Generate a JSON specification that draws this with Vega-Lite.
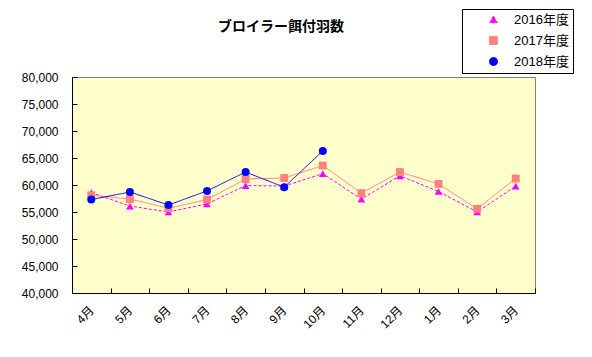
{
  "$schema": "https://vega.github.io/schema/vega-lite/v6.json",
  "autosize": {"type": "none"},
  "width": 463,
  "height": 216,
  "padding": {"left": 72, "top": 77, "right": 57, "bottom": 64},
  "background": "white",
  "title": {
    "text": "ブロイラー餌付羽数",
    "font": "Noto Sans CJK JP",
    "fontSize": 14,
    "fontWeight": "bold",
    "color": "black",
    "anchor": "start",
    "frame": "group",
    "baseline": "bottom",
    "dx": 146,
    "offset": -39
  },
  "config": {
    "view": {"fill": "#FFFFCC", "stroke": "#808080", "strokeWidth": 1},
    "font": "Liberation Sans, Noto Sans CJK JP",
    "legend": {
      "orient": "none",
      "legendX": 390,
      "legendY": -68,
      "direction": "vertical",
      "strokeColor": "black",
      "fillColor": "white",
      "padding": 4,
      "labelFontSize": 13,
      "labelColor": "black",
      "rowPadding": 7,
      "symbolSize": 81,
      "symbolOffset": 21,
      "labelOffset": 14
    }
  },
  "data": {
    "values": [
      {"month": "4月", "year": "2016年度", "value": 58600},
      {"month": "5月", "year": "2016年度", "value": 56100},
      {"month": "6月", "year": "2016年度", "value": 55000},
      {"month": "7月", "year": "2016年度", "value": 56500},
      {"month": "8月", "year": "2016年度", "value": 59900},
      {"month": "9月", "year": "2016年度", "value": 59800},
      {"month": "10月", "year": "2016年度", "value": 62100},
      {"month": "11月", "year": "2016年度", "value": 57400},
      {"month": "12月", "year": "2016年度", "value": 61700},
      {"month": "1月", "year": "2016年度", "value": 58800},
      {"month": "2月", "year": "2016年度", "value": 55000},
      {"month": "3月", "year": "2016年度", "value": 59800},
      {"month": "4月", "year": "2017年度", "value": 58100},
      {"month": "5月", "year": "2017年度", "value": 57400},
      {"month": "6月", "year": "2017年度", "value": 55700},
      {"month": "7月", "year": "2017年度", "value": 57300},
      {"month": "8月", "year": "2017年度", "value": 61100},
      {"month": "9月", "year": "2017年度", "value": 61300},
      {"month": "10月", "year": "2017年度", "value": 63600},
      {"month": "11月", "year": "2017年度", "value": 58500},
      {"month": "12月", "year": "2017年度", "value": 62400},
      {"month": "1月", "year": "2017年度", "value": 60200},
      {"month": "2月", "year": "2017年度", "value": 55600},
      {"month": "3月", "year": "2017年度", "value": 61200},
      {"month": "4月", "year": "2018年度", "value": 57300},
      {"month": "5月", "year": "2018年度", "value": 58700},
      {"month": "6月", "year": "2018年度", "value": 56300},
      {"month": "7月", "year": "2018年度", "value": 58900},
      {"month": "8月", "year": "2018年度", "value": 62400},
      {"month": "9月", "year": "2018年度", "value": 59600},
      {"month": "10月", "year": "2018年度", "value": 66300}
    ]
  },
  "encoding": {
    "x": {
      "field": "month",
      "type": "nominal",
      "sort": ["4月", "5月", "6月", "7月", "8月", "9月", "10月", "11月", "12月", "1月", "2月", "3月"],
      "scale": {"paddingInner": 0, "paddingOuter": 0},
      "axis": {
        "title": null,
        "labelAngle": -45,
        "labelAlign": "right",
        "labelBaseline": "middle",
        "tickBand": "extent",
        "tickSize": -5,
        "tickColor": "black",
        "domainColor": "black",
        "labelColor": "black",
        "labelFontSize": 12,
        "labelPadding": 20,
        "labelDx": -12,
        "grid": false
      }
    },
    "y": {
      "field": "value",
      "type": "quantitative",
      "scale": {"domain": [40000, 80000], "nice": false, "zero": false},
      "axis": {
        "title": null,
        "values": [40000, 45000, 50000, 55000, 60000, 65000, 70000, 75000, 80000],
        "format": ",.0f",
        "tickSize": -5,
        "tickColor": "black",
        "domainColor": "black",
        "labelColor": "black",
        "labelFontSize": 12,
        "labelPadding": 19,
        "grid": false
      }
    },
    "color": {
      "field": "year",
      "type": "nominal",
      "scale": {"domain": ["2016年度", "2017年度", "2018年度"], "range": ["#FF00FF", "#FF8080", "#0000FF"]},
      "legend": {
        "title": null,
        "encode": {
          "symbols": {
            "update": {
              "shape": {"signal": "datum.value === '2016年度' ? 'M-3.7,0H3.7M0,-1.1L1,0.9H-1Z' : datum.value === '2017年度' ? 'M-3.7,0H3.7M-0.9,-0.9H0.9V0.9H-0.9Z' : 'M-3.7,0H3.7M1,0A1,1,0,1,1,-1,0A1,1,0,1,1,1,0Z'"},
              "strokeWidth": {"value": 1},
              "strokeDash": {"signal": "datum.value === '2016年度' ? [3, 2] : [1, 0]"}
            }
          }
        }
      }
    }
  },
  "layer": [
    {
      "mark": {"type": "line", "strokeWidth": 1},
      "encoding": {
        "strokeDash": {
          "field": "year",
          "type": "nominal",
          "scale": {"domain": ["2016年度", "2017年度", "2018年度"], "range": [[3, 2], [1, 0], [1, 0]]},
          "legend": null
        }
      }
    },
    {
      "mark": {"type": "point", "filled": true, "opacity": 1},
      "encoding": {
        "shape": {
          "field": "year",
          "type": "nominal",
          "scale": {"domain": ["2016年度", "2017年度", "2018年度"], "range": ["triangle-up", "square", "circle"]},
          "legend": null
        },
        "size": {
          "field": "year",
          "type": "nominal",
          "scale": {"domain": ["2016年度", "2017年度", "2018年度"], "range": [60, 64, 55]},
          "legend": null
        }
      }
    }
  ]
}
